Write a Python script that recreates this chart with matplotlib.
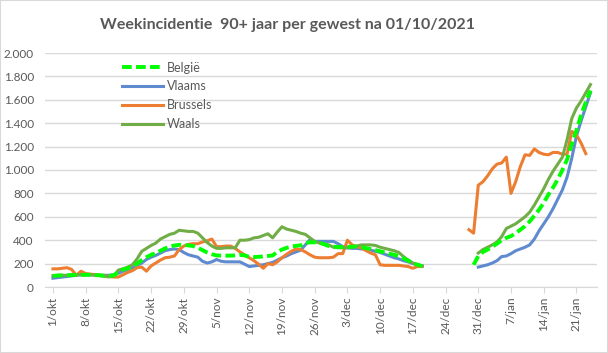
import numpy as np
import matplotlib
matplotlib.use('Agg')
import matplotlib.pyplot as plt
from matplotlib.patches import Rectangle

# days counted from 1/okt (day 0); gap between the two segments
tick_days = list(range(0, 113, 7))
tick_labels = ['1/okt', '8/okt', '15/okt', '22/okt', '29/okt', '5/nov', '12/nov',
               '19/nov', '26/nov', '3/dec', '10/dec', '17/dec', '24/dec',
               '31/dec', '7/jan', '14/jan', '21/jan']

# first segment: day 0 .. 79
belgie_1 = [95, 98, 100, 100, 102, 103, 104, 104, 104, 102, 100, 97, 95, 100, 125, 150,
            160, 175, 200, 230, 255, 275, 290, 310, 330, 345, 355, 360, 360, 355, 350, 335,
            315, 295, 280, 270, 268, 268, 268, 270, 275, 270, 258, 256, 258, 262, 265, 270,
            300, 320, 335, 345, 352, 356, 375, 382, 382, 380, 365, 350, 345, 342, 342, 342,
            345, 347, 340, 332, 325, 315, 305, 296, 285, 275, 265, 245, 225, 205, 190, 178]
vlaams_1 = [75, 80, 85, 90, 95, 100, 105, 105, 105, 105, 100, 100, 100, 105, 118, 135,
            150, 165, 185, 205, 235, 255, 270, 290, 310, 320, 325, 320, 295, 275, 265, 255,
            220, 205, 215, 235, 220, 215, 215, 215, 215, 195, 175, 180, 185, 190, 200, 210,
            230, 250, 265, 285, 300, 315, 360, 405, 390, 390, 390, 390, 390, 370, 345, 335,
            330, 330, 325, 325, 315, 305, 295, 280, 265, 250, 240, 225, 215, 200, 190, 180]
brussel_1 = [155, 155, 160, 165, 150, 100, 135, 115, 110, 105, 100, 95, 90, 85, 85, 105,
             125, 140, 165, 170, 135, 180, 205, 230, 250, 255, 265, 320, 350, 365, 370, 370,
             385, 395, 410, 345, 345, 350, 350, 330, 300, 275, 250, 225, 195, 160, 200, 190,
             215, 250, 280, 305, 325, 320, 300, 275, 255, 250, 250, 250, 255, 285, 285, 400,
             360, 345, 335, 310, 290, 275, 190, 185, 185, 185, 185, 180, 175, 160, 175, 175]
waals_1 = [97, 100, 100, 100, 102, 104, 105, 105, 104, 100, 97, 92, 86, 95, 145, 155,
           170, 190, 240, 305, 330, 355, 375, 410, 430, 450, 460, 485, 480, 475, 475, 460,
           420, 380, 350, 330, 330, 335, 335, 335, 400, 400, 405, 420, 425, 440, 455, 420,
           470, 515, 495, 485, 475, 460, 450, 420, 390, 375, 370, 360, 340, 335, 335, 335,
           340, 350, 360, 360, 360, 355, 340, 330, 320, 310, 295, 260, 230, 205, 190, 180]

# second segment: each series starts on its own day and runs to day 115
belgie_start, vlaams_start, brussel_start, waals_start = 90, 91, 89, 91
belgie_2 = [190, 265, 300, 320, 345, 370, 400, 420, 435, 460, 490, 520, 560, 610, 660,
            720, 790, 850, 920, 1000, 1090, 1220, 1340, 1470, 1580, 1680]
vlaams_2 = [170, 180, 190, 205, 225, 260, 265, 285, 310, 325, 340, 360, 410, 480, 540,
            600, 670, 750, 830, 940, 1100, 1290, 1420, 1540, 1660]
brussel_2 = [490, 460, 870, 900, 950, 1010, 1050, 1060, 1110, 800, 900, 1030, 1130, 1125,
             1180, 1150, 1135, 1130, 1150, 1150, 1135, 1135, 1330, 1300, 1230, 1140]
waals_2 = [290, 320, 340, 360, 385, 430, 500, 520, 540, 570, 600, 640, 700, 770, 840,
           920, 990, 1050, 1110, 1260, 1440, 1530, 1590, 1660, 1730]


def series(first, start, second):
    days = np.arange(0, 116)
    vals = np.full(days.shape, np.nan)
    vals[:len(first)] = first
    vals[start:start + len(second)] = second
    return days, vals


plt.rcParams['font.family'] = ['Lato', 'DejaVu Sans']
grey = '#595959'

fig = plt.figure(figsize=(6.08, 3.53), dpi=100)
fig.patches.append(Rectangle((0, 0), 1, 1, transform=fig.transFigure, fill=False,
                             edgecolor='#d9d9d9', linewidth=1.5))
ax = fig.add_axes([45 / 608, 1 - 287 / 353, (597 - 45) / 608, (287 - 53) / 353])

d, v = series(vlaams_1, vlaams_start, vlaams_2)
l_vl, = ax.plot(d, v, color='#5f8ad0', lw=2.2, label='Vlaams', zorder=3)
d, v = series(brussel_1, brussel_start, brussel_2)
l_br, = ax.plot(d, v, color='#ed7d31', lw=2.2, label='Brussels', zorder=3)
d, v = series(waals_1, waals_start, waals_2)
l_wa, = ax.plot(d, v, color='#70ad47', lw=2.2, label='Waals', zorder=3)
d, v = series(belgie_1, belgie_start, belgie_2)
l_be, = ax.plot(d, v, color='#00ff00', lw=2.8, ls=(0, (2.5, 1.1)), label='België', zorder=4)

ax.set_xlim(-1.7, 116.4)
ax.set_ylim(0, 2000)
ax.set_yticks(range(0, 2001, 200))
ax.set_yticklabels([f'{t:,}'.replace(',', '.') for t in range(0, 2001, 200)])
ax.set_xticks(tick_days)
ax.set_xticklabels(tick_labels, rotation=90)
ax.grid(axis='y', color='#d9d9d9', lw=1)
ax.set_axisbelow(True)
for s in ['top', 'right', 'left']:
    ax.spines[s].set_visible(False)
ax.spines['bottom'].set_color('#d9d9d9')
ax.tick_params(axis='y', length=0, colors=grey, labelsize=8.5, pad=8)
ax.tick_params(axis='x', length=4, color='#d9d9d9', labelcolor=grey, labelsize=8.5, pad=3)

ax.legend(handles=[l_be, l_vl, l_br, l_wa], loc='upper left', bbox_to_anchor=(0.13, 0.985),
          frameon=False, fontsize=9, labelcolor=grey, handlelength=3.3,
          handletextpad=0.3, labelspacing=0.55, borderaxespad=0)

fig.text(288 / 608, 1 - 25 / 353, 'Weekincidentie  90+ jaar per gewest na 01/10/2021',
         ha='center', va='center', fontsize=11.5, fontweight='bold', color=grey)

fig.savefig('out.png', dpi=100)
